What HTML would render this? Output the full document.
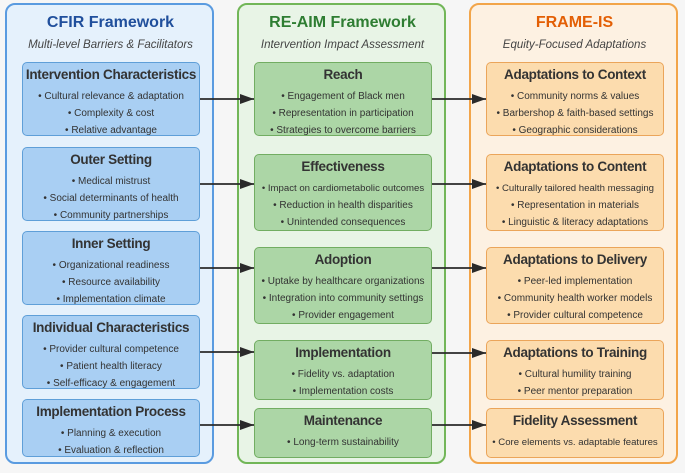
<!DOCTYPE html><html><head><style>
body{margin:0;width:685px;height:473px;background:#f6f6f6;font-family:"Liberation Sans",sans-serif;position:relative;overflow:hidden}
.p{position:absolute;top:3px;width:209px;height:461px;border:2px solid;border-radius:10px;box-sizing:border-box}
.pt{position:absolute;width:211px;text-align:center;font-weight:bold;font-size:16px;top:14px}
.ps{position:absolute;width:211px;text-align:center;font-style:italic;font-size:11.5px;color:#444;top:39px}
.b{position:absolute;width:178px;border:1.5px solid;border-radius:5px;box-sizing:border-box;text-align:center;color:#333}
.b .t{font-weight:bold;font-size:13.5px;margin-top:3px;margin-bottom:4px;line-height:18px;white-space:nowrap;letter-spacing:-0.3px}
.b div{font-size:10px;line-height:17px;white-space:nowrap}
.L{background:#a9cff3;border-color:#5f9fd8}.M{background:#acd6a6;border-color:#72ad62}.R{background:#fcdcae;border-color:#eba55a}
</style></head><body>
<div class="p" style="left:5px;background:#e5f1fc;border-color:#5a9be0"></div>
<div class="p" style="left:237px;background:#e8f4e6;border-color:#72b658"></div>
<div class="p" style="left:469px;background:#fdf1e2;border-color:#f2a54a"></div>
<div class="pt" style="left:5px;color:#204f9c">CFIR Framework</div>
<div class="ps" style="left:5px">Multi-level Barriers &amp; Facilitators</div>
<div class="pt" style="left:237px;color:#2e7d32">RE-AIM Framework</div>
<div class="ps" style="left:237px">Intervention Impact Assessment</div>
<div class="pt" style="left:469px;color:#e35f05">FRAME-IS</div>
<div class="ps" style="left:469px">Equity-Focused Adaptations</div>

<div class="b L" style="left:22px;top:62px;height:74px"><div class="t">Intervention Characteristics</div><div>• Cultural relevance &amp; adaptation</div><div>• Complexity &amp; cost</div><div>• Relative advantage</div></div>
<div class="b L" style="left:22px;top:147px;height:74px"><div class="t">Outer Setting</div><div>• Medical mistrust</div><div>• Social determinants of health</div><div>• Community partnerships</div></div>
<div class="b L" style="left:22px;top:231px;height:74px"><div class="t">Inner Setting</div><div>• Organizational readiness</div><div>• Resource availability</div><div>• Implementation climate</div></div>
<div class="b L" style="left:22px;top:315px;height:74px"><div class="t">Individual Characteristics</div><div>• Provider cultural competence</div><div>• Patient health literacy</div><div>• Self-efficacy &amp; engagement</div></div>
<div class="b L" style="left:22px;top:399px;height:58px"><div class="t">Implementation Process</div><div>• Planning &amp; execution</div><div>• Evaluation &amp; reflection</div></div>

<div class="b M" style="left:254px;top:62px;height:74px"><div class="t">Reach</div><div>• Engagement of Black men</div><div>• Representation in participation</div><div>• Strategies to overcome barriers</div></div>
<div class="b M" style="left:254px;top:154px;height:77px"><div class="t">Effectiveness</div><div style="font-size:9.6px">• Impact on cardiometabolic outcomes</div><div>• Reduction in health disparities</div><div>• Unintended consequences</div></div>
<div class="b M" style="left:254px;top:247px;height:77px"><div class="t">Adoption</div><div>• Uptake by healthcare organizations</div><div>• Integration into community settings</div><div>• Provider engagement</div></div>
<div class="b M" style="left:254px;top:340px;height:60px"><div class="t">Implementation</div><div>• Fidelity vs. adaptation</div><div>• Implementation costs</div></div>
<div class="b M" style="left:254px;top:408px;height:50px"><div class="t">Maintenance</div><div>• Long-term sustainability</div></div>

<div class="b R" style="left:486px;top:62px;height:74px"><div class="t">Adaptations to Context</div><div>• Community norms &amp; values</div><div>• Barbershop &amp; faith-based settings</div><div>• Geographic considerations</div></div>
<div class="b R" style="left:486px;top:154px;height:77px"><div class="t">Adaptations to Content</div><div style="font-size:9.6px">• Culturally tailored health messaging</div><div>• Representation in materials</div><div>• Linguistic &amp; literacy adaptations</div></div>
<div class="b R" style="left:486px;top:247px;height:77px"><div class="t">Adaptations to Delivery</div><div>• Peer-led implementation</div><div>• Community health worker models</div><div>• Provider cultural competence</div></div>
<div class="b R" style="left:486px;top:340px;height:60px"><div class="t">Adaptations to Training</div><div>• Cultural humility training</div><div>• Peer mentor preparation</div></div>
<div class="b R" style="left:486px;top:408px;height:50px"><div class="t">Fidelity Assessment</div><div style="font-size:9.6px">• Core elements vs. adaptable features</div></div>

<svg width="685" height="473" style="position:absolute;left:0;top:0">
<defs><marker id="a" markerWidth="14" markerHeight="10" refX="14" refY="5" orient="auto" markerUnits="userSpaceOnUse"><path d="M0,0L14,5L0,10z" fill="#2a2a2a"/></marker></defs>
<g stroke="#2a2a2a" stroke-width="1.8" marker-end="url(#a)">
<line x1="200" y1="99" x2="254" y2="99"/><line x1="200" y1="184" x2="254" y2="184"/><line x1="200" y1="268" x2="254" y2="268"/><line x1="200" y1="352" x2="254" y2="352"/><line x1="200" y1="425" x2="254" y2="425"/>
<line x1="432" y1="99" x2="486" y2="99"/><line x1="432" y1="184" x2="486" y2="184"/><line x1="432" y1="268" x2="486" y2="268"/><line x1="432" y1="353" x2="486" y2="353"/><line x1="432" y1="425" x2="486" y2="425"/>
</g></svg>
</body></html>
